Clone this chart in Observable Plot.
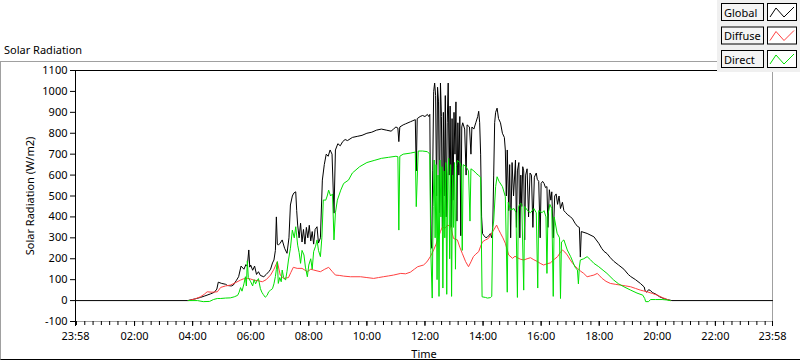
<!DOCTYPE html>
<html><head><meta charset="utf-8">
<script src="https://cdn.jsdelivr.net/npm/d3@7"></script>
<script src="https://cdn.jsdelivr.net/npm/@observablehq/plot@0.6"></script>
<style>
body{margin:0;background:#fff;}
#wrap{position:relative;width:800px;height:361px;overflow:hidden;font-family:"Segoe UI","Noto Sans","Open Sans",sans-serif;background:#fff;}
#frame{position:absolute;left:0;top:61px;width:830px;height:297px;border-top:1px solid #a0a0a0;border-left:1px solid #a0a0a0;border-bottom:1px solid #000;}
#title{position:absolute;left:4px;top:43px;font-size:11px;line-height:14px;color:#000;white-space:nowrap;}
#chart{position:absolute;left:0;top:0;}
#legend{position:absolute;left:717px;top:0;}
</style></head><body>
<div id="wrap"><div id="frame"></div><div id="title">Solar Radiation</div><div id="chart"></div><svg id="legend" width="83" height="72"></svg></div>
<script>
// ---- data: [clock time, W/m2] ----
const globalPts = [
["23:58",0],["03:50",0],["03:55",3],["04:05",8],["04:16",15],["04:25",22],["04:37",32],["04:45",40],["04:50",55],["04:53",88],["05:00",82],["05:08",78],["05:12",72],["05:20",70],["05:24",74],["05:30",95],["05:35",114],["05:40",165],["05:46",150],["05:50",172],["05:53",165],["05:56",242],["05:58",160],["06:00",170],["06:04",145],["06:08",165],["06:12",125],["06:16",138],["06:20",120],["06:27",114],["06:32",125],["06:38",140],["06:41",150],["06:45",180],["06:48",194],["06:51",240],["06:53",400],["06:55",270],["06:57",265],["07:01",275],["07:05",290],["07:10",250],["07:15",226],["07:19",300],["07:22",457],["07:26",500],["07:29",514],["07:33",520],["07:35",430],["07:37",361],["07:40",300],["07:43",370],["07:46",280],["07:49",340],["07:52",270],["07:55",350],["07:58",300],["08:01",360],["08:04",285],["08:07",330],["08:10",270],["08:13",340],["08:17",353],["08:20",275],["08:24",300],["08:28",576],["08:32",650],["08:36",700],["08:40",690],["08:44",720],["08:48",700],["08:52",418],["08:55",720],["09:00",750],["09:05",740],["09:10",760],["09:15",770],["09:20",765],["09:30",780],["09:40",785],["09:50",790],["10:00",800],["10:10",805],["10:20",815],["10:30",820],["10:40",815],["10:50",810],["10:55",820],["11:00",830],["11:04",825],["11:06",760],["11:08",830],["11:15",840],["11:20",845],["11:30",855],["11:35",860],["11:40",865],["11:42",620],["11:44",870],["11:50",880],["11:55",885],["12:00",880],["12:05",890],["12:08",880],["12:10",890],
["12:12",300],["12:14",250],["12:16",620],["12:18",1000],["12:20",1040],["12:22",980],["12:24",500],["12:26",1020],["12:28",950],["12:30",420],["12:32",1040],["12:34",880],["12:36",350],["12:38",900],["12:40",500],["12:42",980],["12:44",400],["12:46",850],["12:48",1040],["12:50",600],["12:52",930],["12:54",350],["12:56",870],["12:58",480],["13:00",900],["13:02",700],["13:04",950],["13:06",380],["13:08",850],["13:10",600],["13:12",880],["13:14",310],["13:16",830],["13:18",850],["13:22",820],["13:25",600],["13:27",840],["13:32",830],["13:35",700],["13:37",830],["13:41",820],["13:45",850],["13:49",880],["13:51",905],["13:53",850],["13:55",700],["13:57",400],["13:59",320],["14:02",310],["14:06",300],["14:09",305],["14:12",310],["14:15",320],["14:18",300],["14:20",350],["14:22",600],["14:24",850],["14:26",900],["14:29",920],["14:32",870],["14:36",850],["14:40",800],["14:44",780],["14:46",720],["14:48",500],["14:50",720],["14:53",430],["14:55",650],["14:57",300],["15:00",660],["15:03",500],["15:07",672],["15:09",350],["15:11",620],["15:14",660],["15:16",300],["15:18",600],["15:20",450],["15:22",640],["15:24",620],["15:26",290],["15:28",600],["15:31",630],["15:34",400],["15:37",610],["15:40",600],["15:43",350],["15:46",590],["15:50",610],["15:52",580],["15:55",570],["15:58",300],["16:00",560],["16:03",570],["16:06",560],["16:09",540],["16:12",545],["16:14",350],["16:17",530],["16:20",480],["16:22",520],["16:25",300],["16:28",500],["16:31",510],["16:34",460],["16:37",500],["16:40",440],["16:44",470],["16:47",430],["16:51",420],["16:55",410],["17:01",400],["17:05",390],["17:10",370],["17:15",355],["17:19",350],["17:21",208],["17:23",330],["17:35",321],["17:49",305],["17:59",274],["18:05",250],["18:10",235],["18:16",225],["18:23",205],["18:30",188],["18:40",170],["18:51",150],["19:00",125],["19:05",115],["19:15",100],["19:25",82],["19:33",65],["19:35",45],["19:38",40],["19:42",52],["19:46",48],["19:50",38],["19:56",32],["20:05",18],["20:13",10],["20:20",5],["20:30",0],["23:58",0]
];
const diffusePts = [
["03:52",0],["04:05",8],["04:16",18],["04:24",30],["04:30",42],["04:40",40],["04:51",42],["04:58",63],["05:08",70],["05:18",74],["05:28",85],["05:39",98],["05:45",104],["05:53",106],["06:00",103],["06:06",98],["06:15",95],["06:24",90],["06:32",100],["06:41",122],["06:48",150],["06:55",186],["07:01",122],["07:08",106],["07:18",110],["07:23",135],["07:28",159],["07:36",154],["07:46",154],["07:57",138],["08:04",150],["08:10",146],["08:17",142],["08:24",138],["08:33",150],["08:41",159],["08:48",140],["08:55",122],["09:04",120],["09:12",117],["09:26",114],["09:47",114],["10:00",110],["10:14",106],["10:24",110],["10:34",114],["10:45",118],["10:55",122],["11:10",130],["11:20",128],["11:30",136],["11:38",150],["11:45",162],["11:57",170],["12:04",185],["12:11",210],["12:18",242],["12:23",270],["12:28",305],["12:32",330],["12:36",353],["12:41",345],["12:47",361],["12:53",353],["12:59",297],["13:07",290],["13:12",255],["13:17",226],["13:24",186],["13:30",162],["13:35",185],["13:40",210],["13:45",222],["13:51",234],["13:55",260],["13:59",281],["14:05",290],["14:11",297],["14:16",315],["14:22",337],["14:28",361],["14:32",340],["14:36",322],["14:41",300],["14:46",274],["14:53",218],["15:01",202],["15:06",212],["15:11",205],["15:17",198],["15:24",194],["15:31",200],["15:38",205],["15:45",195],["15:53",186],["15:58",178],["16:05",170],["16:12",176],["16:19",180],["16:26",195],["16:34",210],["16:39",228],["16:44",242],["16:49",232],["16:54",218],["17:00",195],["17:05",178],["17:10",165],["17:15",154],["17:22",140],["17:28",130],["17:35",114],["17:42",118],["17:49",122],["17:56",130],["18:01",118],["18:06",106],["18:14",92],["18:23",82],["18:33",78],["18:44",74],["18:55",70],["19:05",66],["19:15",58],["19:25",50],["19:32",46],["19:39",42],["19:50",34],["20:00",26],["20:10",15],["20:20",6],["20:27",0]
];
const directPts = [
["03:51",0],["04:10",0],["04:22",-5],["04:35",-4],["04:43",5],["04:51",10],["04:58",10],["05:08",12],["05:18",13],["05:26",18],["05:33",25],["05:36",40],["05:39",62],["05:42",45],["05:46",80],["05:49",114],["05:51",70],["05:53",190],["05:55",110],["06:00",90],["06:04",70],["06:07",100],["06:10",80],["06:13",95],["06:16",105],["06:20",57],["06:23",40],["06:26",29],["06:30",16],["06:34",25],["06:37",42],["06:41",50],["06:45",57],["06:48",80],["06:51",115],["06:53",150],["06:55",186],["06:57",82],["07:00",110],["07:03",90],["07:05",146],["07:08",110],["07:12",98],["07:15",140],["07:18",194],["07:22",250],["07:26",337],["07:30",300],["07:33",353],["07:37",265],["07:40",230],["07:43",178],["07:46",240],["07:50",218],["07:53",160],["07:57",114],["08:00",170],["08:04",200],["08:07",150],["08:10",234],["08:14",260],["08:17",290],["08:20",240],["08:24",210],["08:27",300],["08:30",481],["08:35",480],["08:38",500],["08:41",528],["08:45",500],["08:49",510],["08:52",290],["08:55",420],["08:59",480],["09:06",528],["09:12",560],["09:22",576],["09:30",610],["09:45",640],["10:00",660],["10:15",670],["10:30",680],["10:45",685],["11:00",690],["11:04",688],["11:06",337],["11:08",690],["11:15",700],["11:30",705],["11:40",710],["11:42",449],["11:46",715],["11:55",715],["12:05",712],["12:10",700],
["12:12",240],["12:15",12],["12:17",450],["12:19",672],["12:21",300],["12:23",650],["12:25",100],["12:27",600],["12:29",20],["12:31",672],["12:33",400],["12:35",640],["12:37",60],["12:39",620],["12:41",300],["12:43",660],["12:45",30],["12:47",600],["12:49",680],["12:51",200],["12:53",650],["12:55",20],["12:57",600],["12:59",350],["13:01",660],["13:03",150],["13:05",640],["13:07",670],["13:12",660],["13:15",640],["13:17",240],["13:19",650],["13:25",640],["13:30",620],["13:33",380],["13:35",630],["13:41",620],["13:45",610],["13:50",600],["13:55",590],["13:58",18],["14:05",15],["14:09",12],["14:15",14],["14:18",20],["14:20",353],["14:22",380],["14:26",545],["14:29",592],["14:33",570],["14:40",545],["14:46",497],["14:50",40],["14:52",470],["14:57",433],["15:04",440],["15:08",420],["15:11",15],["15:13",450],["15:18",465],["15:20",460],["15:24",50],["15:26",450],["15:32",430],["15:38",420],["15:45",440],["15:50",420],["15:53",60],["15:55",430],["16:02",420],["16:06",430],["16:10",400],["16:12",130],["16:14",410],["16:18",460],["16:22",440],["16:25",20],["16:27",400],["16:33",322],["16:38",300],["16:40",10],["16:42",280],["16:47",290],["16:54",242],["17:01",210],["17:10",160],["17:15",146],["17:17",80],["17:19",160],["17:21",194],["17:28",200],["17:35",210],["17:42",195],["17:49",178],["17:59",162],["18:08",145],["18:16",130],["18:30",98],["18:40",80],["18:51",66],["19:05",50],["19:18",36],["19:30",26],["19:34",10],["19:36",-5],["19:42",-5],["19:46",5],["19:56",5],["20:10",5],["20:20",3],["20:27",0]
];
const seriesNames = ["Global","Diffuse","Direct"];
const seriesColors = ["#000000","#ff4040","#00e000"];
const xTickLabels = ["23:58","02:00","04:00","06:00","08:00","10:00","12:00","14:00","16:00","18:00","20:00","22:00","23:58"];
const yTickValues = [-100,0,100,200,300,400,500,600,700,800,900,1000,1100];

// ---- helpers ----
function toMin(s, i) {
  const [h, m] = s.split(":").map(Number);
  let t = h * 60 + m;
  if (i === 0 && t > 720) t -= 1440; // the day starts at 23:58 of the day before
  return t;
}
function fmt(t) {
  const m = ((Math.round(t) % 1440) + 1440) % 1440;
  return String(Math.floor(m / 60)).padStart(2, "0") + ":" + String(m % 60).padStart(2, "0");
}
const rows = [];
[globalPts, diffusePts, directPts].forEach((pts, k) => {
  pts.forEach(([s, v], i) => rows.push({series: seriesNames[k], t: toMin(s, i), v}));
});
const majorTicks = xTickLabels.map((s, i) => toMin(s, i));
const xDomain = [majorTicks[0], majorTicks[majorTicks.length - 1]];
const minorTicks = d3.range(0, 85).map(k => k * 120 / 7).filter(t => t >= xDomain[0] && t <= xDomain[1]);

const chart = Plot.plot({
  width: 800, height: 361,
  marginLeft: 75, marginRight: 28, marginTop: 70, marginBottom: 40,
  x: {domain: xDomain},
  y: {domain: [yTickValues[0], yTickValues[yTickValues.length - 1]]},
  style: {fontFamily: '"Segoe UI","Noto Sans","Open Sans",sans-serif', fontSize: "11px", background: "transparent", color: "#000", overflow: "visible"},
  marks: [
    Plot.ruleX([xDomain[1]], {stroke: "#a0a0a0"}),
    Plot.ruleY([yTickValues[0]], {stroke: "#a0a0a0"}),
    ...seriesNames.map((name, k) => Plot.line(rows.filter(r => r.series === name), {x: "t", y: "v", stroke: seriesColors[k], strokeWidth: 1})),
    Plot.ruleX([xDomain[0]], {stroke: "#000"}),
    Plot.ruleY([yTickValues[yTickValues.length - 1]], {stroke: "#000"}),
    Plot.axisY({ticks: yTickValues, tickSize: 5, tickPadding: 3, tickFormat: d => String(d), label: "Solar Radiation (W/m2)", labelAnchor: "center", labelOffset: 49, labelArrow: "none"}),
    Plot.axisX({ticks: minorTicks, tickSize: 4, tickFormat: () => "", label: null}),
    Plot.axisX({ticks: majorTicks, tickSize: 5, tickPadding: 6, tickFormat: fmt, label: "Time", labelAnchor: "center", labelOffset: 36, labelArrow: "none"})
  ]
});
document.getElementById("chart").appendChild(chart);

// ---- legend ----
const lg = d3.select("#legend");
lg.append("rect").attr("x", 0).attr("y", 0).attr("width", 83).attr("height", 72).attr("fill", "#f0f0f0");
seriesNames.forEach((name, k) => {
  const y0 = 3 + k * 23.5;
  lg.append("rect").attr("x", 4.5).attr("y", y0 + 0.5).attr("width", 42).attr("height", 17).attr("fill", "#f4f4f4").attr("stroke", "#000");
  lg.append("text").attr("x", 7).attr("y", y0 + 13.5).attr("font-size", 11).attr("font-family", '"Segoe UI","Noto Sans",sans-serif').attr("fill", "#000").text(name);
  lg.append("rect").attr("x", 50.5).attr("y", y0 + 0.5).attr("width", 29).attr("height", 17).attr("fill", "#fff").attr("stroke", "#000");
  lg.append("polyline").attr("points", `${53},${y0+14} ${59},${y0+5} ${67},${y0+14} ${77},${y0+4}`).attr("fill", "none").attr("stroke", seriesColors[k]);
});
</script>
</body></html>
